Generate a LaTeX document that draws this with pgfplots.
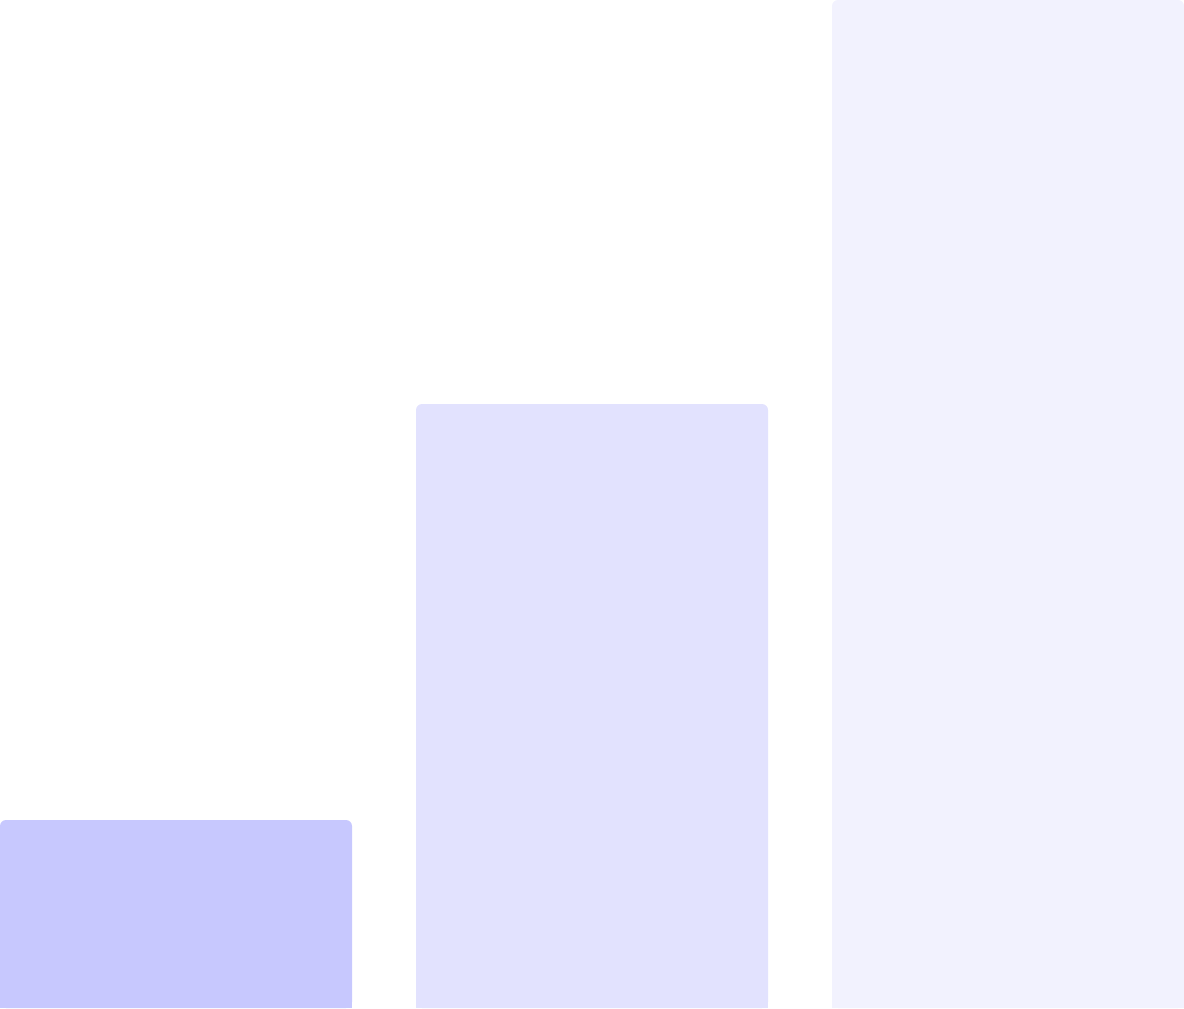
\documentclass[border=0pt]{standalone}
\usepackage{pgfplots}
\pgfplotsset{compat=1.18}
\definecolor{barA}{HTML}{C7C8FE}
\definecolor{barB}{HTML}{E2E2FE}
\definecolor{barC}{HTML}{F2F2FE}
\begin{document}
\begin{tikzpicture}
\begin{axis}[
    hide axis,
    scale only axis,
    width=592pt, height=504pt,
    xmin=-0.42308, xmax=2.42308,
    ymin=0, ymax=100,
    ybar, bar width=0.84615, bar shift=0pt,
    every axis plot/.append style={draw=none},
    ]
% rounded bars
\addplot[fill=barA, rounded corners=3pt] coordinates {(0,18.65)};
\addplot[fill=barB, rounded corners=3pt] coordinates {(1,59.92)};
\addplot[fill=barC, rounded corners=3pt] coordinates {(2,100)};
% square feet so only the top corners are rounded
\addplot[fill=barA] coordinates {(0,2)};
\addplot[fill=barB] coordinates {(1,2)};
\addplot[fill=barC] coordinates {(2,2)};
\end{axis}
\end{tikzpicture}
\end{document}
